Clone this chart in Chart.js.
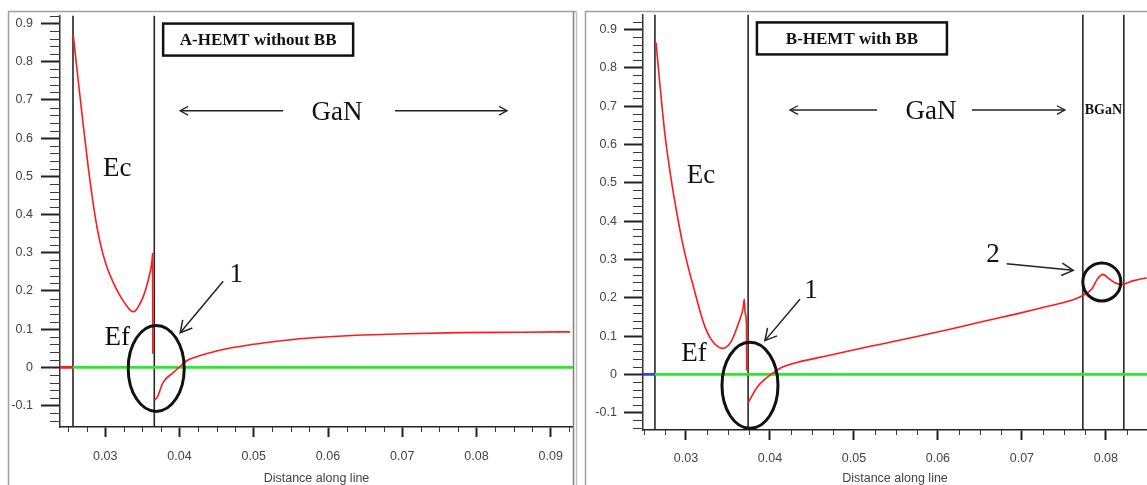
<!DOCTYPE html>
<html>
<head>
<meta charset="utf-8">
<script src="https://cdn.jsdelivr.net/npm/chart.js@4/dist/chart.umd.min.js"></script>
<style>
  body { margin: 0; background: #fff; width: 1147px; height: 485px; overflow: hidden; position: relative; }
  .panel { position: absolute; top: 0; height: 485px; }
  #pa { left: 0; width: 580px; }
  #pb { left: 580px; width: 567px; }
</style>
</head>
<body>
<div class="panel" id="pa"><canvas id="chartA"></canvas></div>
<div class="panel" id="pb"><canvas id="chartB"></canvas></div>
<script>
// ---- panel A : HEMT without back barrier ----
const ecA_x = [0.02569, 0.02630, 0.02700, 0.02770, 0.02840, 0.02900, 0.02960, 0.03030, 0.03108, 0.03175,
               0.03242, 0.03300, 0.03340, 0.03373, 0.03405, 0.03448, 0.03500, 0.03538, 0.03606, 0.03630,
               0.03637, 0.03640];
const ecA_y = [0.869, 0.760, 0.640, 0.525, 0.425, 0.355, 0.303, 0.258, 0.222, 0.196,
               0.174, 0.158, 0.149, 0.146, 0.148, 0.160, 0.180, 0.200, 0.251, 0.280,
               0.298, 0.036];
const efA_x = [0.03660, 0.03700, 0.03780, 0.03920, 0.04010, 0.04100, 0.04280, 0.04720, 0.05180, 0.05620,
               0.06260, 0.07060, 0.07780, 0.08600, 0.09260];
const efA_y = [-0.086, -0.078, -0.039, -0.013, 0.003, 0.018, 0.031, 0.052, 0.065, 0.075,
               0.083, 0.088, 0.091, 0.092, 0.093];
const bordersA = [0.02565, 0.03660];
const xRangeA = [0.0239, 0.0930];
const yRangeA = [-0.156, 0.921];
const xTicksA = [0.03, 0.04, 0.05, 0.06, 0.07, 0.08, 0.09];
const xLabelsA = ['0.03', '0.04', '0.05', '0.06', '0.07', '0.08', '0.09'];

// ---- panel B : HEMT with BGaN back barrier ----
const ecB_x = [0.02643, 0.02690, 0.02750, 0.02830, 0.02900, 0.02960, 0.03020, 0.03090, 0.03167, 0.03230,
               0.03286, 0.03340, 0.03385, 0.03430, 0.03464, 0.03505, 0.03544, 0.03623, 0.03682, 0.03694,
               0.03705, 0.03720, 0.03722];
const ecB_y = [0.866, 0.755, 0.625, 0.500, 0.410, 0.342, 0.285, 0.228, 0.165, 0.122,
               0.096, 0.080, 0.072, 0.068, 0.069, 0.076, 0.088, 0.132, 0.175, 0.196,
               0.160, 0.130, 0.010];
const efB_x = [0.03738, 0.03845, 0.03964, 0.04036, 0.04120, 0.04320, 0.04710, 0.04952, 0.05345, 0.05750,
               0.06143, 0.06536, 0.06940, 0.07333, 0.07610, 0.07726, 0.07833, 0.07900, 0.07964, 0.08024,
               0.08107, 0.08187, 0.08320, 0.08485];
const efB_y = [-0.075, -0.034, -0.008, 0.003, 0.016, 0.031, 0.050, 0.062, 0.080, 0.099,
               0.118, 0.138, 0.158, 0.179, 0.195, 0.206, 0.223, 0.249, 0.261, 0.252,
               0.239, 0.235, 0.244, 0.252];
const bordersB = [0.02630, 0.03740, 0.07726, 0.08214];
const xRangeB = [0.02488, 0.0849];
const yRangeB = [-0.145, 0.939];
const xTicksB = [0.03, 0.04, 0.05, 0.06, 0.07, 0.08];
const xLabelsB = ['0.03', '0.04', '0.05', '0.06', '0.07', '0.08'];

const yTicks = [-0.1, 0, 0.1, 0.2, 0.3, 0.4, 0.5, 0.6, 0.7, 0.8, 0.9];
const yLabels = ['-0.1', '0', '0.1', '0.2', '0.3', '0.4', '0.5', '0.6', '0.7', '0.8', '0.9'];
const fermiLevel = 0;

const RED = 'rgb(255,25,25)';
const GREEN = 'rgb(40,235,40)';
const LINE = '#262626';

function pts(xs, ys) { return xs.map((x, i) => ({ x: x, y: ys[i] })); }
function vline(x, yr) { return [{ x: x, y: yr[0] }, { x: x, y: yr[1] }]; }

function curve(data, color, w) {
  return { data: data, borderColor: color, borderWidth: w, pointRadius: 0, fill: false, cubicInterpolationMode: 'monotone' };
}

function makeDatasets(ec, ef, leftColor, borders, xr, yr) {
  const ds = [
    curve(ec, RED, 1.6),
    curve(ef, RED, 1.6),
    curve([{ x: xr[0], y: fermiLevel }, { x: borders[0], y: fermiLevel }], leftColor, 2.6),
    curve([{ x: borders[0], y: fermiLevel }, { x: xr[1], y: fermiLevel }], GREEN, 2.6)
  ];
  borders.forEach(b => ds.push({ data: vline(b, yr), borderColor: LINE, borderWidth: 1.6, pointRadius: 0, tension: 0 }));
  return ds;
}

function arrow(ctx, x1, y1, x2, y2, head, lw) {
  ctx.save();
  ctx.strokeStyle = '#222';
  ctx.lineWidth = lw;
  ctx.beginPath(); ctx.moveTo(x1, y1); ctx.lineTo(x2, y2); ctx.stroke();
  const a = Math.atan2(y2 - y1, x2 - x1);
  ctx.beginPath();
  ctx.moveTo(x2 - head * Math.cos(a - 0.5), y2 - head * Math.sin(a - 0.5));
  ctx.lineTo(x2, y2);
  ctx.lineTo(x2 - head * Math.cos(a + 0.5), y2 - head * Math.sin(a + 0.5));
  ctx.stroke();
  ctx.restore();
}

function text(ctx, s, x, y, font) {
  ctx.save();
  ctx.font = font;
  ctx.fillStyle = '#111';
  ctx.textAlign = 'center';
  ctx.textBaseline = 'middle';
  ctx.fillText(s, x, y);
  ctx.restore();
}

function ellipse(ctx, cx, cy, rx, ry) {
  ctx.save();
  ctx.strokeStyle = '#111';
  ctx.lineWidth = 3;
  ctx.beginPath(); ctx.ellipse(cx, cy, rx, ry, 0, 0, Math.PI * 2); ctx.stroke();
  ctx.restore();
}

function titleBox(ctx, s, cx, cy, w, h) {
  ctx.save();
  ctx.strokeStyle = '#111';
  ctx.lineWidth = 2.5;
  ctx.strokeRect(cx - w / 2, cy - h / 2, w, h);
  ctx.restore();
  text(ctx, s, cx, cy + 1, 'bold 17px "Liberation Serif"');
}

// minor ticks and panel frame
function decorPlugin(frame) {
  return {
    id: 'decor',
    afterDraw(chart) {
      const ctx = chart.ctx, x = chart.scales.x, y = chart.scales.y, a = chart.chartArea;
      ctx.save();
      ctx.strokeStyle = '#3a3a3a';
      ctx.lineWidth = 1;
      for (let k = Math.ceil(x.min / 0.0025); k <= Math.floor(x.max / 0.0025); k++) {
        if (k % 4 === 0) continue;
        const px = Math.round(x.getPixelForValue(k * 0.0025)) + 0.5;
        ctx.beginPath(); ctx.moveTo(px, a.bottom); ctx.lineTo(px, a.bottom + 5); ctx.stroke();
      }
      for (let k = Math.ceil(y.min / 0.02); k <= Math.floor(y.max / 0.02); k++) {
        if (k % 5 === 0) continue;
        const py = Math.round(y.getPixelForValue(k * 0.02)) + 0.5;
        ctx.beginPath(); ctx.moveTo(a.left - 10, py); ctx.lineTo(a.left, py); ctx.stroke();
      }
      // frame
      ctx.strokeStyle = '#a0a0a0';
      ctx.lineWidth = 1.5;
      ctx.beginPath();
      ctx.moveTo(frame.left, chart.height); ctx.lineTo(frame.left, 11.5); ctx.lineTo(frame.right, 11.5);
      ctx.stroke();
      if (frame.edge) {
        ctx.strokeStyle = '#808080';
        ctx.beginPath(); ctx.moveTo(frame.right - 3, 11.5); ctx.lineTo(frame.right - 3, chart.height); ctx.stroke();
        ctx.strokeStyle = '#c0c0c0';
        ctx.beginPath(); ctx.moveTo(frame.right, 11.5); ctx.lineTo(frame.right, chart.height); ctx.stroke();
      }
      ctx.restore();
      frame.notes(chart);
    }
  };
}

function options(xr, yr, xT, xL, geo) {
  return {
    responsive: true,
    maintainAspectRatio: false,
    animation: false,
    layout: { padding: { left: 0, top: 12, right: geo.padRight, bottom: 0 } },
    plugins: { legend: { display: false }, tooltip: { enabled: false } },
    scales: {
      x: {
        type: 'linear', min: xr[0], max: xr[1],
        afterBuildTicks: s => { s.ticks = xT.map(v => ({ value: v })); },
        afterFit: s => { s.height = geo.xH; },
        ticks: { callback: (v, i) => xL[i], autoSkip: false, maxRotation: 0, padding: geo.xPad,
                 color: '#444', font: { family: '"Liberation Sans", Arial', size: 12.5 } },
        grid: { drawOnChartArea: false, tickLength: 10, tickWidth: 2, tickColor: '#222' },
        border: { color: '#222', width: 1.5 },
        title: { display: true, text: 'Distance along line', color: '#444', padding: { top: 0, bottom: -1 },
                 font: { family: '"Liberation Sans", Arial', size: 12.5 } }
      },
      y: {
        type: 'linear', min: yr[0], max: yr[1],
        afterBuildTicks: s => { s.ticks = yTicks.map(v => ({ value: v })); },
        afterFit: s => { s.width = geo.yW; },
        ticks: { callback: (v, i) => yLabels[i], autoSkip: false, padding: geo.yPad,
                 color: '#444', font: { family: '"Liberation Sans", Arial', size: 12.5 } },
        grid: { drawOnChartArea: false, tickLength: 19, tickWidth: 2, tickColor: '#222' },
        border: { color: '#333', width: 1.5 }
      }
    }
  };
}

const serifBig = '27px "Liberation Serif"';

function notesA(chart) {
  const ctx = chart.ctx, X = v => chart.scales.x.getPixelForValue(v), Y = v => chart.scales.y.getPixelForValue(v);
  titleBox(ctx, 'A-HEMT without BB', X(0.05059), Y(0.858), 190, 32);
  text(ctx, 'GaN', X(0.06122), Y(0.6665), serifBig);
  arrow(ctx, X(0.05396), Y(0.6717), X(0.04009), Y(0.6717), 9, 1.3);
  arrow(ctx, X(0.06903), Y(0.6717), X(0.08411), Y(0.6717), 9, 1.3);
  text(ctx, 'Ec', X(0.03162), Y(0.5187), serifBig);
  text(ctx, 'Ef', X(0.03162), Y(0.0778), serifBig);
  ellipse(ctx, X(0.03686), Y(-0.0026), 28, 43);
  arrow(ctx, X(0.04588), Y(0.2256), X(0.04009), Y(0.0908), 13, 1.5);
  text(ctx, '1', X(0.04763), Y(0.2412), serifBig);
}

function notesB(chart) {
  const ctx = chart.ctx, X = v => chart.scales.x.getPixelForValue(v), Y = v => chart.scales.y.getPixelForValue(v);
  titleBox(ctx, 'B-HEMT with BB', X(0.04976), Y(0.8766), 190, 32);
  text(ctx, 'GaN', X(0.05917), Y(0.6846), serifBig);
  arrow(ctx, X(0.05274), Y(0.6898), X(0.04238), Y(0.6898), 9, 1.3);
  arrow(ctx, X(0.06405), Y(0.6898), X(0.07512), Y(0.6898), 9, 1.3);
  text(ctx, 'BGaN', X(0.0797), Y(0.6898), 'bold 14px "Liberation Serif"');
  text(ctx, 'Ec', X(0.03179), Y(0.5187), serifBig);
  text(ctx, 'Ef', X(0.03095), Y(0.0545), serifBig);
  ellipse(ctx, X(0.03762), Y(-0.0285), 28, 43);
  arrow(ctx, X(0.04357), Y(0.1963), X(0.0394), Y(0.0882), 13, 1.5);
  text(ctx, '1', X(0.04488), Y(0.2178), serifBig);
  ellipse(ctx, X(0.07952), Y(0.2412), 19, 19);
  arrow(ctx, X(0.06818), Y(0.2886), X(0.07611), Y(0.2715), 13, 1.5);
  text(ctx, '2', X(0.06655), Y(0.3112), serifBig);
}

const chartA = new Chart(document.getElementById('chartA').getContext('2d'), {
  type: 'line',
  data: { datasets: makeDatasets(pts(ecA_x, ecA_y), pts(efA_x, efA_y), RED, bordersA, xRangeA, yRangeA) },
  options: options(xRangeA, yRangeA, xTicksA, xLabelsA, { padRight: 7, xH: 58, yW: 60, xPad: 12, yPad: 8 }),
  plugins: [decorPlugin({ left: 8.5, right: 576.5, edge: true, notes: notesA })]
});

const chartB = new Chart(document.getElementById('chartB').getContext('2d'), {
  type: 'line',
  data: { datasets: makeDatasets(pts(ecB_x, ecB_y), pts(efB_x, efB_y), 'rgb(50,60,255)', bordersB, xRangeB, yRangeB) },
  options: options(xRangeB, yRangeB, xTicksB, xLabelsB, { padRight: 0, xH: 55, yW: 63, xPad: 11, yPad: 7 }),
  plugins: [decorPlugin({ left: 5.5, right: 567, edge: false, notes: notesB })]
});
</script>
</body>
</html>
